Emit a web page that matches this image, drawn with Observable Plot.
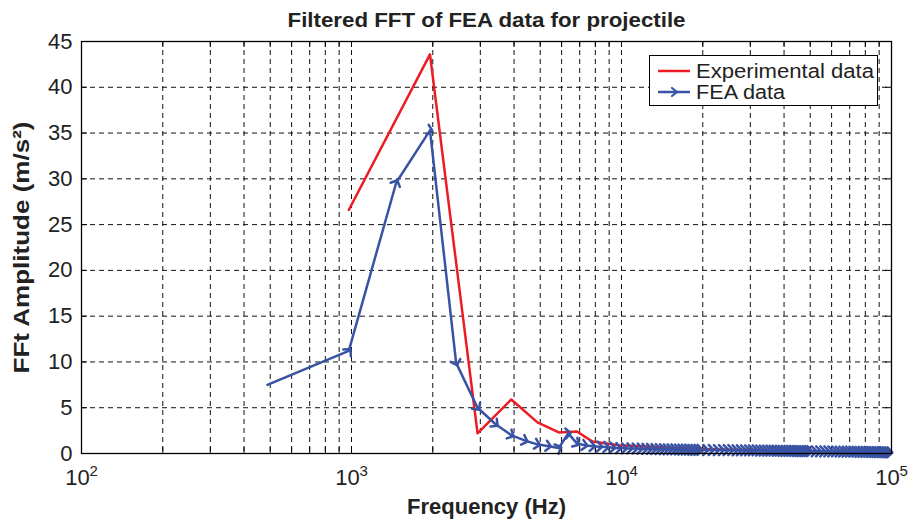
<!DOCTYPE html>
<html><head><meta charset="utf-8">
<script src="https://cdn.jsdelivr.net/npm/d3@7"></script>
<script src="https://cdn.jsdelivr.net/npm/@observablehq/plot@0.6"></script>
<style>body{margin:0;background:#fff}#chart{width:912px;height:520px}</style>
</head><body><div id="chart"></div>
<script>
// Experimental data (Hz, m/s^2)
const expFreq = [977, 1953, 2930, 3906, 4883, 5859, 6836, 7813, 8789, 9766,
  10742, 11719, 12695, 13672, 14648, 15625, 17578, 19531, 23438, 29297,
  39063, 48828, 58594, 68359, 78125, 87891, 97656];
const expAmp = [26.6, 43.6, 2.2, 5.9, 3.4, 2.3, 2.4, 1.3, 1.1, 0.9,
  0.85, 0.8, 0.75, 0.7, 0.65, 0.62, 0.55, 0.5, 0.45, 0.4,
  0.3, 0.25, 0.2, 0.2, 0.15, 0.15, 0.1];
// FEA data (Hz, m/s^2)
const feaFreq = [488, 977, 1465, 1953, 2441, 2930, 3418, 3906, 4395, 4883,
  5371, 5859, 6348, 6836, 7324, 7813, 8301, 8789, 9277, 9766,
  10254, 10742, 11230, 11719, 12207, 12695, 13184, 13672, 14160, 14648,
  15137, 15625, 16113, 16602, 17090, 17578, 18066, 18555, 19043, 19531,
  20508, 21484, 22461, 23438, 24414, 25391, 26367, 27344, 28320, 29297,
  30273, 31250, 32227, 33203, 34180, 35156, 36133, 37109, 38086, 39063,
  40039, 41016, 41992, 42969, 43945, 44922, 45898, 46875, 47852, 48828, 49805,
  51758, 53711, 55664, 57617, 59570, 61523, 63477, 65430, 67383, 69336,
  71289, 73242, 75195, 77148, 79102, 81055, 83008, 84961, 86914, 88867,
  90820, 92773, 94727, 96680, 98633];
const feaAmp = [7.5, 11.2, 29.6, 35.3, 9.9, 5.0, 3.2, 2.0, 1.4, 1.0,
  0.8, 0.6, 2.2, 1.1, 0.9, 0.8, 0.75, 0.7, 0.62, 0.58,
  0.56, 0.55, 0.54, 0.52, 0.5, 0.5, 0.48, 0.47, 0.46, 0.45,
  0.45, 0.44, 0.43, 0.42, 0.42, 0.41, 0.4, 0.4, 0.39, 0.39,
  0.38, 0.38, 0.37, 0.37, 0.36, 0.36, 0.35, 0.35, 0.34, 0.34,
  0.33, 0.33, 0.32, 0.32, 0.31, 0.31, 0.3, 0.3, 0.3, 0.29,
  0.29, 0.28, 0.28, 0.28, 0.27, 0.27, 0.26, 0.26, 0.26, 0.25, 0.25,
  0.24, 0.24, 0.23, 0.23, 0.22, 0.22, 0.21, 0.21, 0.2, 0.2,
  0.19, 0.19, 0.18, 0.18, 0.17, 0.17, 0.16, 0.16, 0.15, 0.15,
  0.14, 0.14, 0.13, 0.13, 0.12];
const xMajor = [100, 1000, 10000, 100000];
const xExpLabels = ["2", "3", "4", "5"];
const xMinor = [200, 300, 400, 500, 600, 700, 800, 900,
  2000, 3000, 4000, 5000, 6000, 7000, 8000, 9000,
  20000, 30000, 40000, 50000, 60000, 70000, 80000, 90000];
const yTicks = [0, 5, 10, 15, 20, 25, 30, 35, 40, 45];
const seriesNames = ["Experimental data", "FEA data"];
const title = "Filtered FFT of FEA data for projectile";
const xLabel = "Frequency (Hz)";
const yLabel = "FFt Amplitude (m/s²)";

const W = 912, H = 520, mL = 81, mR = 21, mT = 41, mB = 67;
const pw = W - mL - mR, ph = H - mT - mB;
const RED = "#ec1c24", BLUE = "#3953a4";
const font = "'Liberation Sans', Arial, Helvetica, sans-serif";
const FS = 22;

const exp = expFreq.map((f, i) => ({f, a: expAmp[i]}));
const fea = feaFreq.map((f, i) => ({f, a: feaAmp[i]}));
const allX = [...xMajor, ...xMinor];
const gridX = [...xMinor, 1000, 10000];
const gridY = yTicks.slice(1, -1);
const tl = 6;

const chart = Plot.plot({
  width: W, height: H,
  marginLeft: mL, marginRight: mR, marginTop: mT, marginBottom: mB,
  style: {fontFamily: font, background: "white", color: "black", overflow: "visible"},
  x: {type: "log", domain: [100, 100000], axis: null},
  y: {domain: [0, 45], axis: null},
  marks: [
    Plot.ruleX(gridX, {x: d => d, stroke: "#111", strokeWidth: 1, strokeDasharray: "5,4"}),
    Plot.ruleY(gridY, {y: d => d, stroke: "#111", strokeWidth: 1, strokeDasharray: "5,4"}),
    Plot.ruleX(allX, {x: d => d, insetTop: ph - tl, stroke: "black"}),
    Plot.ruleX(allX, {x: d => d, insetBottom: ph - tl, stroke: "black"}),
    Plot.ruleY(yTicks, {y: d => d, insetRight: pw - tl, stroke: "black"}),
    Plot.ruleY(yTicks, {y: d => d, insetLeft: pw - tl, stroke: "black"}),
    Plot.line(exp, {x: "f", y: "a", stroke: RED, strokeWidth: 2.5}),
    Plot.line(fea, {x: "f", y: "a", stroke: BLUE, strokeWidth: 2.5, markerMid: "arrow", markerEnd: "arrow"}),
    Plot.frame({stroke: "black", strokeWidth: 1.3}),
    Plot.text(yTicks, {y: d => d, text: d => String(d), frameAnchor: "left", textAnchor: "end", dx: -9, fontSize: FS, fill: "#222"}),
    Plot.text(xMajor, {x: d => d, text: () => "10", frameAnchor: "bottom", textAnchor: "middle", lineAnchor: "bottom", dx: -4, dy: 31, fontSize: FS, fill: "#222"}),
    Plot.text(xMajor, {x: d => d, text: (d, i) => xExpLabels[i], frameAnchor: "bottom", textAnchor: "start", lineAnchor: "bottom", dx: 8, dy: 22, fontSize: 15, fill: "#222"}),
    Plot.text([xLabel], {text: d => d, frameAnchor: "bottom", textAnchor: "middle", lineAnchor: "bottom", dy: 60, fontSize: FS, fontWeight: "bold", fill: "#222"}),
    Plot.text([yLabel], {text: d => d, frameAnchor: "left", textAnchor: "middle", rotate: -90, dx: -60, fontSize: FS, fontWeight: "bold", fill: "#222"}),
    Plot.text([title], {text: d => d, frameAnchor: "top", textAnchor: "middle", lineAnchor: "bottom", dy: -15, fontSize: 21, fontWeight: "bold", fill: "#222"})
  ]
});
document.getElementById("chart").appendChild(chart);

const svg = d3.select(chart);
// stretch a few texts to the reference's lengths
const lengths = new Map([[title, 398], [yLabel, 252]]);
svg.selectAll("text").each(function () {
  const L = lengths.get(this.textContent);
  if (L) d3.select(this).attr("textLength", L).attr("lengthAdjust", "spacingAndGlyphs");
});

// legend
const lg = svg.append("g").attr("font-family", font).attr("font-size", 20)
  .attr("fill", "#222").attr("text-anchor", "start");
lg.append("rect").attr("x", 649.5).attr("y", 55.5).attr("width", 228).attr("height", 50)
  .attr("fill", "white").attr("stroke", "black").attr("stroke-width", 1);
const colors = [RED, BLUE];
const legendLen = [178, 89];
seriesNames.forEach((name, i) => {
  const yy = 71 + i * 21;
  lg.append("line").attr("x1", 658).attr("x2", 690).attr("y1", yy).attr("y2", yy)
    .attr("stroke", colors[i]).attr("stroke-width", 2.5);
  if (i === 1) {
    lg.append("path").attr("d", `M${672},${yy - 4}L${677},${yy}L${672},${yy + 4}`)
      .attr("fill", "none").attr("stroke", colors[i]).attr("stroke-width", 2.2)
      .attr("stroke-linecap", "round").attr("stroke-linejoin", "round");
  }
  lg.append("text").attr("x", 696).attr("y", yy + 7)
    .attr("textLength", legendLen[i]).attr("lengthAdjust", "spacingAndGlyphs").text(name);
});
</script>
</body></html>
